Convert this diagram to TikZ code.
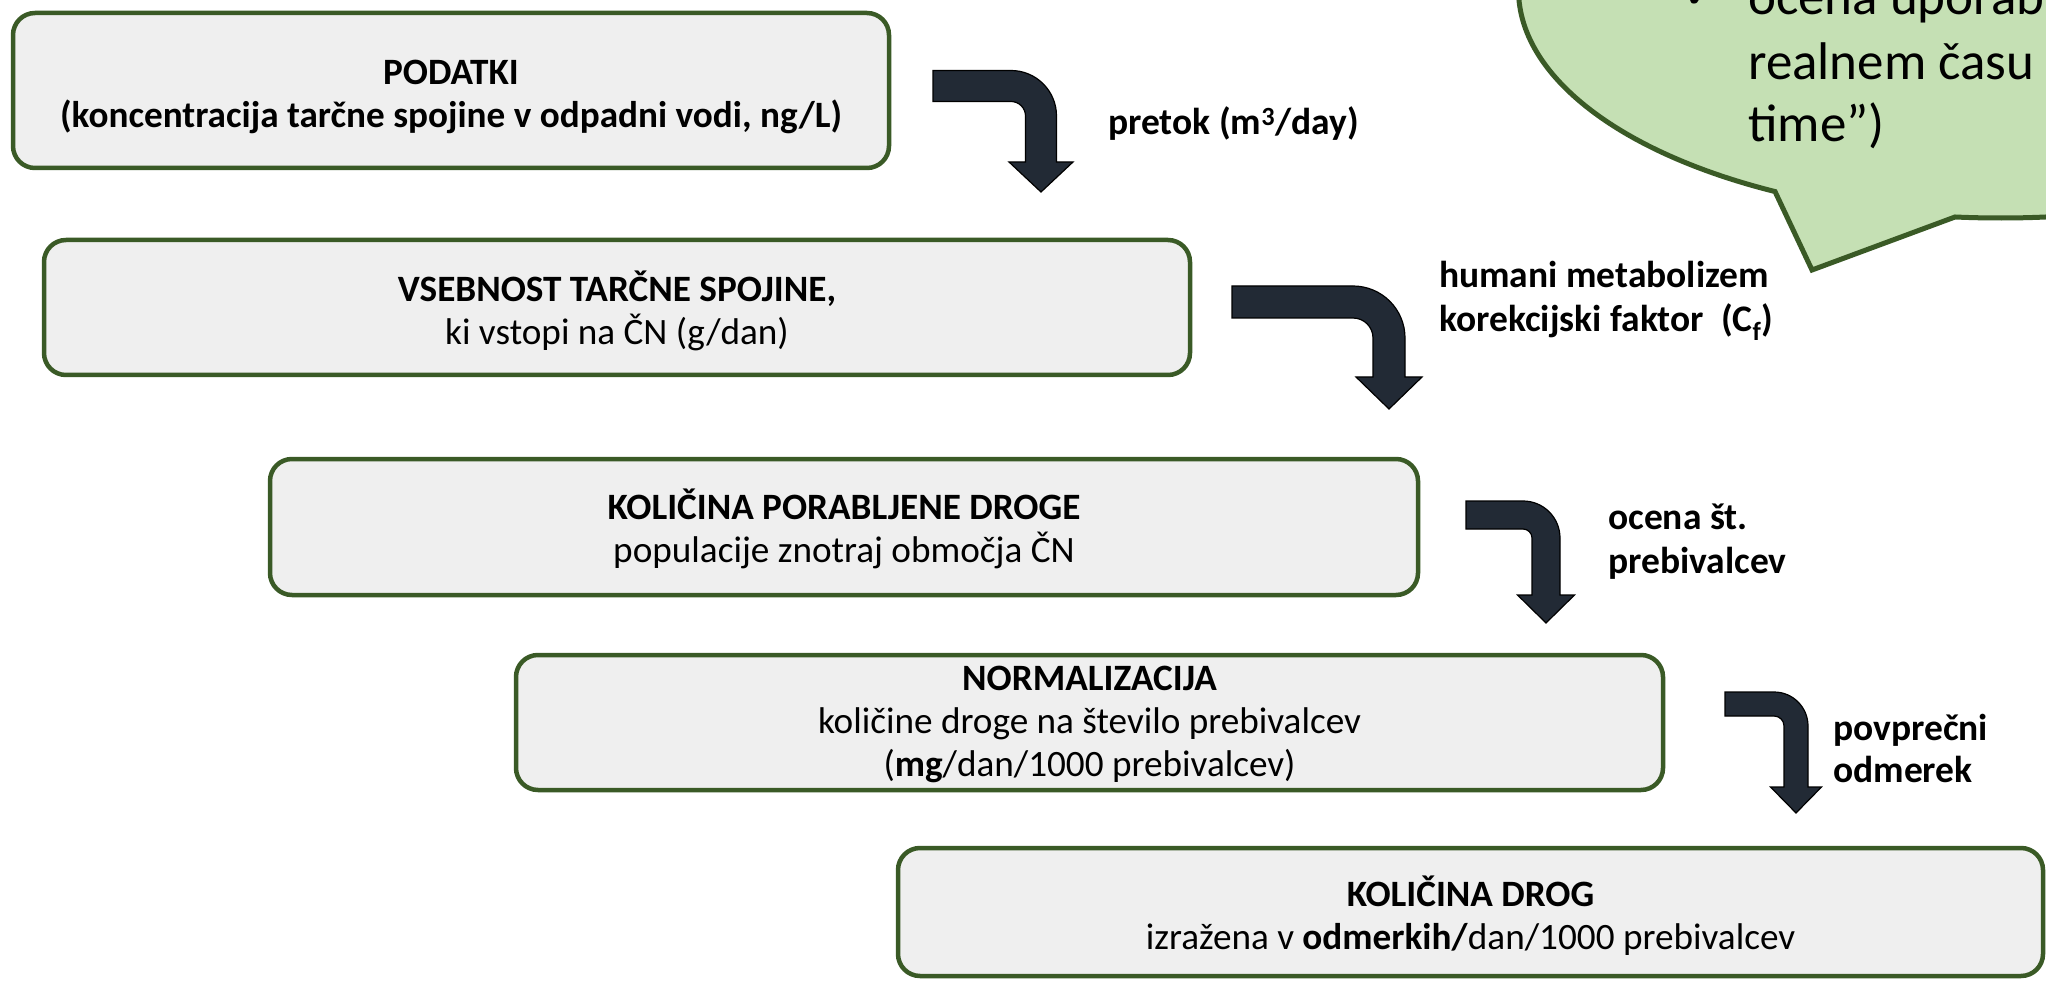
\documentclass[tikz,border=0pt]{standalone}
\usepackage{fontspec}
\setmainfont{Carlito}
\newfontfamily\symbfont{DejaVu Sans}
\definecolor{boxgray}{HTML}{EFEFEF}
\definecolor{boxgreen}{HTML}{3A5A26}
\definecolor{bubblegreen}{HTML}{C5E0B4}
\definecolor{arrowdark}{HTML}{222A35}
\tikzset{
  stepbox/.style={draw=boxgreen, line width=4.5pt, fill=boxgray, rounded corners=22pt,
    inner sep=0pt},
  boxtext/.style={inner sep=0pt, align=center, font=\fontsize{37.2}{43}\selectfont},
  lbl/.style={anchor=west, align=left, inner sep=0pt, font=\fontsize{37.5}{44}\selectfont\bfseries},
  btxt/.style={anchor=base west, inner sep=0pt, font=\fontsize{53}{63}\selectfont},
  bendarrow/.style={fill=arrowdark, draw=black, line width=1.2pt, line join=miter},
  bubble/.style={fill=bubblegreen, draw=boxgreen, line width=5pt, line join=miter},
}
% #1 left x, #2 bar centre y, #3 thickness, #4 shaft centre x, #5 bend radius,
% #6 head top y, #7 tip y, #8 head half width
\newcommand{\bentarr}[8]{%
  \filldraw[bendarrow] ({#1},{#2-#3/2}) -- ({#4-#5},{#2-#3/2})
    arc[start angle=270, end angle=360, radius={#5+#3/2}]
    -- ({#4+#3/2},{#6}) -- ({#4+#8},{#6}) -- ({#4},{#7}) -- ({#4-#8},{#6})
    -- ({#4-#3/2},{#6}) -- ({#4-#3/2},{#2+#5})
    arc[start angle=0, end angle=-90, radius={#5-#3/2}]
    -- ({#1},{#2+#3/2}) -- cycle;}
\begin{document}
\begin{tikzpicture}[x=1pt,y=-1pt]
\useasboundingbox (0,0) rectangle (2046,981);
\clip (0,0) rectangle (2046,981);

% speech bubble (cut by the picture edge)
\coordinate (wa) at ({2000+481.5*cos(117.86)},{-10+228*sin(117.86)});
\coordinate (wtip) at (1812,270);
\coordinate (wb) at ({2000+481.5*cos(95.36)},{-10+228*sin(95.36)});
\filldraw[bubble] (wa) -- (wtip) -- (wb)
  arc[start angle=95.36, end angle=-242.14, x radius=481.5, y radius=228] -- cycle;
\node[anchor=base, inner sep=0pt, font=\symbfont\fontsize{40}{48}\selectfont] (ck) at (1701,8) {✔};
\node[btxt] (t1) at (1748,15) {ocena uporab};
\node[btxt] (t2) at (1748,80) {realnem času};
\node[btxt] (t3) at (1748,142) {time”)};

% boxes
\node[stepbox, minimum width=876pt, minimum height=155pt] (b1) at (451,90.5) {};
\node[boxtext] (b1t) at (451,96.5)
  {\textbf{PODATKI}\\\textbf{(koncentracija tarčne spojine v odpadni vodi, ng/L)}};
\node[stepbox, minimum width=1146pt, minimum height=135pt] (b2) at (617,307.5) {};
\node[boxtext] (b2t) at (617,310.5)
  {\textbf{VSEBNOST TARČNE SPOJINE,}\\ki vstopi na ČN (g/dan)};
\node[stepbox, minimum width=1148pt, minimum height=136pt] (b3) at (844,527) {};
\node[boxtext] (b3t) at (844,529)
  {\textbf{KOLIČINA PORABLJENE DROGE}\\populacije znotraj območja ČN};
\node[stepbox, minimum width=1147pt, minimum height=135pt] (b4) at (1089.5,722.5) {};
\node[boxtext] (b4t) at (1089.5,724.5)
  {\textbf{NORMALIZACIJA}\\količine droge na število prebivalcev\\(\textbf{mg}/dan/1000 prebivalcev)};
\node[stepbox, minimum width=1145pt, minimum height=128pt] (b5) at (1470.5,912) {};
\node[boxtext] (b5t) at (1470.5,916)
  {\textbf{KOLIČINA DROG}\\izražena v \textbf{odmerkih/}dan/1000 prebivalcev};

% bent arrows
\bentarr{933}{86}{31}{1041}{30}{162}{192}{32}
\bentarr{1232}{302}{32}{1389}{36}{377}{409}{33}
\bentarr{1466}{515}{28}{1546}{23}{595}{623}{28.5}
\bentarr{1725}{704}{24}{1796}{22}{787}{813}{25.5}

% labels
\node[lbl] (l1) at (1108,124) {pretok (m\textsuperscript{3}/day)};
\node[lbl] (l2) at (1439,301) {humani metabolizem\\korekcijski faktor\ \ (C\textsubscript{f})};
\node[lbl] (l3) at (1608,541.5) {ocena št.\\prebivalcev};
\node[lbl, font=\fontsize{37.5}{42}\selectfont\bfseries] (l4) at (1833,748) {povprečni\\odmerek};
\end{tikzpicture}
\end{document}
